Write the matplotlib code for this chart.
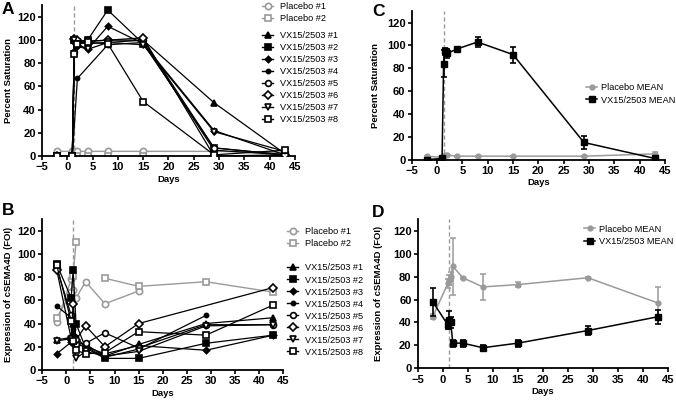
import numpy as np
import matplotlib
matplotlib.use("Agg")
import matplotlib.pyplot as plt
from matplotlib.lines import Line2D

plt.rcParams['font.family'] = ['Liberation Sans', 'DejaVu Sans']

nan = np.nan
# ---------------- data ----------------
t_ind = [-2, 1, 1.4, 2, 4, 8, 15, 29, 43]
# Panel A: percent saturation, individuals
A_placebo1 = [4, 4, 4, 4, 4, 4, 4, 4, 3]
A_placebo2 = [0, 0, 0, 0, 0, 0, 0, 0, 0]
A_vx = {
    "VX15/2503 #1": [0, 0, 100, 98, 97, 98, 100, 46, 2],
    "VX15/2503 #2": [0, 0, 100, 98, 100, 126, 97, 7, 1],
    "VX15/2503 #3": [0, 0, 98, 95, 92, 112, 97, 22, 1],
    "VX15/2503 #4": [0, 0, nan, 67, nan, 96, 98, 5, 1],
    "VX15/2503 #5": [0, 0, 90, 97, 99, 100, 100, 7, 1],
    "VX15/2503 #6": [0, 0, 101, 100, 99, 100, 102, 0, 1],
    "VX15/2503 #7": [0, 0, 100, 97, 92, 98, 96, 21, 4],
    "VX15/2503 #8": [0, 0, 88, 97, 98, 97, 47, 1, 5],
}
# Panel B: cSEMA4D expression, individuals
B_placebo1 = [41, 78, 69, 62, 76, 57, 68, nan, 40]
B_placebo2 = [45, 66, 81, 110, nan, 79, 72, 76, 67]
B_vx = {
    "VX15/2503 #1": [26, 28, 40, 24, 22, 12, 22, 40, 45],
    "VX15/2503 #2": [91, 62, 86, 40, 19, 10, 10, 23, 30],
    "VX15/2503 #3": [14, 24, 30, 22, 20, 14, 21, 17, 30],
    "VX15/2503 #4": [55, 45, 35, 28, 20, 11, 18, 47, nan],
    "VX15/2503 #5": [88, 47, 27, 22, 23, 32, 19, 39, 39],
    "VX15/2503 #6": [86, 27, 57, 26, 38, 20, 40, nan, 71],
    "VX15/2503 #7": [25, 27, 22, 10, 16, 12, 16, 38, 39],
    "VX15/2503 #8": [90, 42, 25, 17, 14, 15, 33, 30, 56],
}
# Means
t_mean = [-2, 1, 1.3, 1.6, 2, 4, 8, 15, 29, 43]
C_vx = [0, 1, 84, 95, 93, 97, 103, 92, 15, 1]
C_vx_err = [0.5, 0.5, 12, 3, 4, 1, 4, 7, 6, 1]
C_pl = [3, 2, 3, 4, 4, 3, 3, 3, 3, 5]
C_pl_err = [0.3, 0.3, 0.3, 0.3, 1, 0.3, 0.3, 0.3, 0.3, 2]
D_vx = [58, 38, 42, 40, 22, 22, 18, 22, 33, 45]
D_vx_err = [12, 4, 8, 5, 3, 3, 2, 3, 4, 6]
D_pl = [45, 74, 77, 80, 89, 79, 71, 73, 79, 57]
D_pl_err = [2, 4, 4, 4, 25, 1, 11, 2, 1, 14]

dose_day = 1.3
xticks = [-5, 0, 5, 10, 15, 20, 25, 30, 35, 40, 45]
yticks = [0, 20, 40, 60, 80, 100, 120]

vx_markers = ['^', 's', 'D', 'o', 'o', 'D', 'v', 's']
vx_filled = [True, True, True, True, False, False, False, False]
vx_msize = [4, 4, 3.2, 3, 4.2, 4.2, 4.5, 4.5]
GRAY = '#9a9a9a'

fig = plt.figure(figsize=(6.76, 4.0), dpi=100)

def style(ax, ylabel, ylab_x):
    ax.set_xlim(-5, 45)
    ax.set_ylim(0, 130)
    ax.set_xticks(xticks)
    ax.set_yticks(yticks)
    for s in ['top', 'right']:
        ax.spines[s].set_visible(False)
    for s in ['left', 'bottom']:
        ax.spines[s].set_linewidth(1.3)
    ax.tick_params(direction='out', length=3, width=1.2, labelsize=8, pad=1.5)
    for lab in ax.get_xticklabels() + ax.get_yticklabels():
        lab.set_fontweight('bold')
    ax.axvline(dose_day, color=GRAY, lw=1.0, ls=(0, (3, 2)), zorder=0)
    ax.set_xlabel('Days', fontsize=6.8, fontweight='bold')
    ax.set_ylabel(ylabel, fontsize=6.8, fontweight='bold')
    ax.yaxis.set_label_coords(ylab_x, 0.5)

def draw_individuals(ax, pl1, pl2, vx):
    ax.plot(t_ind, pl1, color=GRAY, lw=1, marker='o', ms=4.5, mfc='white', mec=GRAY, mew=1.2, zorder=2)
    ax.plot(t_ind, pl2, color=GRAY, lw=1, marker='s', ms=4.5, mfc='white', mec=GRAY, mew=1.2, zorder=2)
    for i, (name, vals) in enumerate(vx.items()):
        v = np.array(vals, dtype=float)
        tt = np.array(t_ind, dtype=float)
        m = ~np.isnan(v)
        ax.plot(tt[m], v[m], color='black', lw=0.9, marker=vx_markers[i], ms=vx_msize[i],
                mfc='black' if vx_filled[i] else 'white', mec='black', mew=1.2, zorder=3)

def ind_handles():
    hp = [Line2D([], [], color=GRAY, lw=1, marker='o', ms=4.5, mfc='white', mec=GRAY, mew=1.2),
          Line2D([], [], color=GRAY, lw=1, marker='s', ms=4.5, mfc='white', mec=GRAY, mew=1.2)]
    hv = [Line2D([], [], color='black', lw=1, marker=vx_markers[i], ms=vx_msize[i],
                 mfc='black' if vx_filled[i] else 'white', mec='black', mew=1.2) for i in range(8)]
    return hp, hv

leg_kw = dict(frameon=False, fontsize=6.6, handlelength=1.25, handletextpad=0.75,
              labelspacing=0.33, borderpad=0, borderaxespad=0, loc='upper left')
leg_kw2 = dict(leg_kw, handletextpad=0.4, labelspacing=0.4)

# ---- Panel A ----
axA = fig.add_axes([0.0621, 0.61, 0.3743, 0.3765])
draw_individuals(axA, A_placebo1, A_placebo2, A_vx)
style(axA, 'Percent Saturation', -0.115)
hp, hv = ind_handles()
fig.legend(hp, ['Placebo #1', 'Placebo #2'], bbox_to_anchor=(262 / 676, 1 - 2 / 400), **leg_kw)
fig.legend(hv, list(A_vx.keys()), bbox_to_anchor=(262 / 676, 1 - 31 / 400), **leg_kw)

# ---- Panel B ----
axB = fig.add_axes([0.0626, 0.075, 0.356, 0.3775])
draw_individuals(axB, B_placebo1, B_placebo2, B_vx)
style(axB, 'Expression of cSEMA4D (FOI)', -0.122)
hp, hv = ind_handles()
fig.legend(hp, ['Placebo #1', 'Placebo #2'], bbox_to_anchor=(287 / 676, 1 - 227 / 400), **leg_kw)
fig.legend(hv, list(B_vx.keys()), bbox_to_anchor=(287 / 676, 1 - 263.5 / 400), **leg_kw)

# ---- Panel C ----
def draw_means(ax, pl, pl_err, vx, vx_err):
    ax.errorbar(t_mean, pl, yerr=pl_err, color=GRAY, lw=1.1, marker='o', ms=3.5,
                mfc=GRAY, mec=GRAY, elinewidth=1.1, capsize=2.5, capthick=1.1, zorder=2)
    ax.errorbar(t_mean, vx, yerr=vx_err, color='black', lw=1.1, marker='s', ms=4,
                mfc='black', mec='black', elinewidth=1.2, capsize=2.5, capthick=1.2, zorder=3)

def mean_handles():
    return [Line2D([], [], color=GRAY, lw=1.1, marker='o', ms=3.5, mfc=GRAY, mec=GRAY),
            Line2D([], [], color='black', lw=1.1, marker='s', ms=4, mfc='black', mec='black')]

axC = fig.add_axes([0.609, 0.601, 0.3747, 0.371])
draw_means(axC, C_pl, C_pl_err, C_vx, C_vx_err)
style(axC, 'Percent Saturation', -0.125)
fig.legend(mean_handles(), ['Placebo MEAN', 'VX15/2503 MEAN'],
           bbox_to_anchor=(586 / 676, 1 - 83 / 400), **leg_kw2)

# ---- Panel D ----
axD = fig.add_axes([0.618, 0.079, 0.370, 0.373])
draw_means(axD, D_pl, D_pl_err, D_vx, D_vx_err)
style(axD, 'Expression of cSEMA4D (FOI)', -0.139)
fig.legend(mean_handles(), ['Placebo MEAN', 'VX15/2503 MEAN'],
           bbox_to_anchor=(584 / 676, 1 - 224.5 / 400), **leg_kw2)

for ax in (axA, axB, axC, axD):
    ax.xaxis.set_label_coords(0.5, -0.125)

# panel letters
fig.text(2 / 676, 1 - 2 / 400, 'A', fontsize=12.5, fontweight='bold', va='top', ha='left')
fig.text(2 / 676, 1 - 203 / 400, 'B', fontsize=12.5, fontweight='bold', va='top', ha='left')
fig.text(372 / 676, 1 - 4 / 400, 'C', fontsize=12.5, fontweight='bold', va='top', ha='left')
fig.text(372 / 676, 1 - 205 / 400, 'D', fontsize=12.5, fontweight='bold', va='top', ha='left')

fig.savefig('out.png', dpi=100)
